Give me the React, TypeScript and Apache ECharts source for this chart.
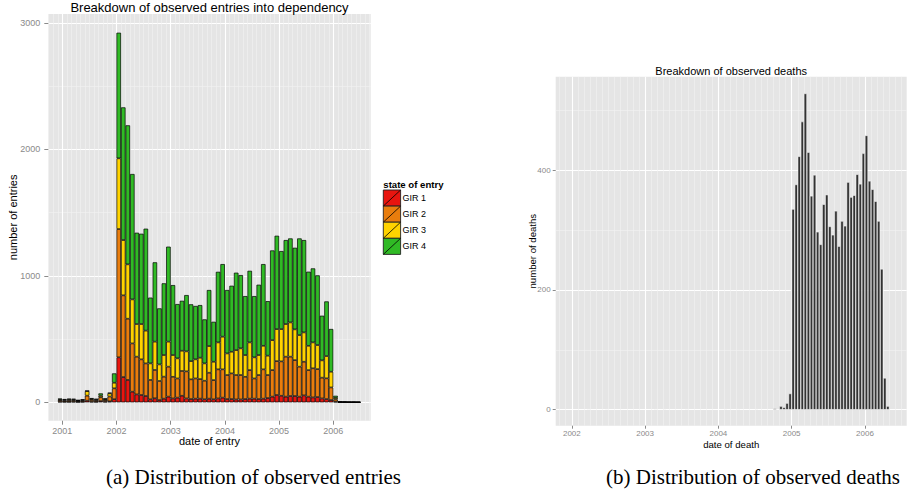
import React, { useEffect, useRef } from "react";
import * as echarts from "echarts";

// ---- entries into dependency, monthly, split by GIR level ----
const entryFirstMonth = "2000-12";
const girNames = ["GIR 1", "GIR 2", "GIR 3", "GIR 4"];
const girColors = ["#E8150F", "#E97D0D", "#FFD300", "#30BA25"];

const gir1 = [5, 4, 4, 5, 3, 4, 13, 5, 4, 10, 5, 8, 25, 356, 200, 177, 84, 63, 58, 50, 24, 32, 18, 29, 45, 31, 37, 52, 31, 26, 29, 29, 24, 29, 24, 31, 37, 26, 26, 23, 23, 26, 29, 29, 26, 29, 34, 45, 58, 52, 45, 50, 50, 45, 55, 45, 39, 42, 31, 26, 18, 5, 1, 1, 0, 0, 0];
const gir2 = [12, 10, 12, 11, 8, 10, 40, 14, 12, 30, 13, 38, 86, 1014, 646, 484, 382, 298, 282, 258, 153, 224, 151, 174, 237, 171, 152, 196, 214, 156, 160, 155, 147, 205, 152, 230, 224, 190, 203, 193, 193, 176, 226, 160, 190, 232, 182, 210, 268, 272, 316, 311, 284, 237, 266, 210, 230, 221, 164, 164, 100, 18, 2, 1, 1, 1, 1];
const gir3 = [6, 6, 7, 6, 4, 5, 36, 8, 6, 13, 7, 25, 44, 559, 437, 430, 348, 258, 279, 259, 131, 224, 131, 171, 198, 172, 159, 160, 158, 144, 151, 169, 137, 211, 145, 213, 258, 171, 171, 197, 211, 172, 219, 167, 158, 186, 153, 237, 253, 255, 258, 271, 243, 250, 232, 192, 205, 190, 137, 176, 124, 12, 1, 1, 1, 1, 0];
const gir4 = [7, 6, 6, 6, 3, 5, 3, 7, 6, 18, 7, 5, 74, 993, 1049, 1099, 991, 722, 714, 806, 520, 627, 443, 567, 751, 553, 429, 395, 445, 449, 422, 416, 348, 443, 316, 558, 574, 501, 522, 612, 579, 466, 566, 484, 556, 646, 431, 709, 738, 617, 664, 664, 645, 764, 730, 586, 585, 551, 353, 432, 338, 17, 1, 1, 1, 1, 1];
const girSeries = [gir1, gir2, gir3, gir4];

const entryYearTicks = [2001, 2002, 2003, 2004, 2005, 2006];
const entryCountTicks = [0, 1000, 2000, 3000];

// ---- observed deaths, half-month bins ("YYYY-MM-h", h = 1 or 2) ----
const deathPeriods = [
  "2002-03-2", "2002-06-2", "2003-02-2", "2003-04-1", "2003-07-2", "2004-02-1", "2004-04-1", "2004-07-1",
  "2004-10-1", "2004-10-2", "2004-11-1", "2004-11-2", "2004-12-1", "2004-12-2",
  "2005-01-1", "2005-01-2", "2005-02-1", "2005-02-2", "2005-03-1", "2005-03-2",
  "2005-04-1", "2005-04-2", "2005-05-1", "2005-05-2", "2005-06-1", "2005-06-2",
  "2005-07-1", "2005-07-2", "2005-08-1", "2005-08-2", "2005-09-1", "2005-09-2",
  "2005-10-1", "2005-10-2", "2005-11-1", "2005-11-2", "2005-12-1", "2005-12-2",
  "2006-01-1", "2006-01-2", "2006-02-1", "2006-02-2", "2006-03-1", "2006-03-2",
  "2006-04-1", "2006-04-2",
];
const deathCounts = [
  1, 1, 1, 1, 1, 1, 1, 1,
  2, 1, 6, 4, 11, 27,
  335, 376, 423, 481, 528, 430,
  357, 392, 297, 276, 343, 359,
  306, 292, 332, 273, 315, 307,
  380, 355, 358, 393, 377, 428,
  458, 382, 368, 348, 315, 235,
  53, 6,
];
const deathYearTicks = [2002, 2003, 2004, 2005, 2006];
const deathCountTicks = [0, 200, 400];

const SANS = "'Liberation Sans', Arial, Helvetica, sans-serif";
const SERIF = "'Liberation Serif', 'DejaVu Serif', serif";
const TICK_GREY = "#8a8a8a";

function monthStart(label: string): number {
  const [y, m] = label.split("-").map(Number);
  return y + (m - 1) / 12;
}
function halfMonthCentre(label: string): number {
  const [y, m, h] = label.split("-").map(Number);
  return y + (m - 1) / 12 + (h === 1 ? 1 : 3) / 48;
}
function monthLabels(first: string, count: number): string[] {
  let [y, m] = first.split("-").map(Number);
  const out: string[] = [];
  for (let i = 0; i < count; i++) {
    out.push(`${y}-${String(m).padStart(2, "0")}`);
    m += 1;
    if (m > 12) { m = 1; y += 1; }
  }
  return out;
}

const entryMonths = monthLabels(entryFirstMonth, gir1.length);

// panel geometry (pixels) and data ranges of the two panels
const P1 = { left: 48.3, top: 14, width: 322.4, height: 406.7 };
const P2 = { left: 555.7, top: 76.7, width: 351, height: 349 };
const X1 = [2000.742, 2006.69];
const Y1 = [-145, 3070];
const X2 = [2001.78, 2006.57];
const Y2 = [-26.7, 556];

const pxPerYear1 = P1.width / (X1[1] - X1[0]);
const halfMonthPx = P2.width / (X2[1] - X2[0]) / 24;

// the stacked monthly bars sit on a category axis laid exactly over the
// span of months on the date scale of panel (a)
const barsStart = monthStart(entryMonths[0]);
const barsEnd = barsStart + entryMonths.length / 12;
const BARS = {
  left: P1.left + (barsStart - X1[0]) * pxPerYear1,
  top: P1.top,
  width: (barsEnd - barsStart) * pxPerYear1,
  height: P1.height,
};

function onlyTicks(ticks: number[]) {
  return (v: number) => (ticks.some((t) => Math.abs(t - v) < 1e-6) ? String(Math.round(v)) : "");
}

function valueAxis(opts: {
  gridIndex: number; min: number; max: number; step: number; minorSplit: number;
  ticks: number[]; fontSize: number; tickLen: number; margin: number;
}) {
  return {
    type: "value",
    gridIndex: opts.gridIndex,
    min: opts.min,
    max: opts.max,
    minInterval: opts.step,
    maxInterval: opts.step,
    axisLine: { show: false, onZero: false },
    axisTick: { show: true, length: opts.tickLen, customValues: opts.ticks, lineStyle: { color: TICK_GREY, width: 1 } },
    axisLabel: {
      show: true, customValues: opts.ticks, color: TICK_GREY, fontSize: opts.fontSize,
      fontFamily: SANS, margin: opts.margin, formatter: onlyTicks(opts.ticks),
    },
    splitLine: { show: true, lineStyle: { color: "#FFFFFF", width: 1.1 } },
    minorTick: { show: false, splitNumber: opts.minorSplit },
    minorSplitLine: { show: true, lineStyle: { color: "#F2F2F2", width: 0.6 } },
  };
}

function text(t: string, x: number, y: number, size: number, extra: any = {}) {
  return {
    type: "text",
    x, y,
    rotation: extra.rotation || 0,
    silent: true,
    z: 100,
    style: {
      text: t,
      fontSize: size,
      fontFamily: extra.family || SANS,
      fontWeight: extra.weight || "normal",
      fill: extra.color || "#000",
      align: extra.align || "center",
      verticalAlign: "middle",
    },
  };
}

function buildOption() {
  const entrySeries = girSeries.map((vals, k) => ({
    type: "bar",
    name: girNames[k],
    xAxisIndex: 2,
    yAxisIndex: 2,
    stack: "entries",
    barCategoryGap: "0%",
    itemStyle: { color: girColors[k], borderColor: "#000", borderWidth: 0.7 },
    data: vals,
  }));

  const deathSeries = {
    type: "bar",
    name: "deaths",
    xAxisIndex: 1,
    yAxisIndex: 1,
    barWidth: halfMonthPx,
    itemStyle: { color: "#333333", borderColor: "#FFFFFF", borderWidth: 0.5 },
    data: deathCounts.map((v, i) => [halfMonthCentre(deathPeriods[i]), v]),
  };

  const legendTop = 190;
  const keyH = 16.1;
  const keyW = 17.3;
  const keyX = 383.3;
  const legend: any[] = [text("state of entry", keyX, 184.3, 9.6, { align: "left", weight: "bold" })];
  girNames.forEach((name, k) => {
    const y0 = legendTop + k * keyH;
    legend.push({
      type: "rect", silent: true, z: 100,
      shape: { x: keyX, y: y0, width: keyW, height: keyH },
      style: { fill: girColors[k], stroke: "#222", lineWidth: 0.9 },
    });
    legend.push({
      type: "line", silent: true, z: 101,
      shape: { x1: keyX, y1: y0 + keyH, x2: keyX + keyW, y2: y0 },
      style: { stroke: "#000", lineWidth: 0.8 },
    });
    legend.push(text(name, keyX + keyW + 2, y0 + keyH / 2, 9, { align: "left" }));
  });

  const c1x = P1.left + P1.width / 2;
  const c2x = P2.left + P2.width / 2;

  return {
    animation: false,
    textStyle: { fontFamily: SANS },
    grid: [
      { ...P1, show: true, backgroundColor: "#E5E5E5", borderWidth: 0, containLabel: false },
      { ...P2, show: true, backgroundColor: "#E5E5E5", borderWidth: 0, containLabel: false },
      { ...BARS, show: false, containLabel: false },
    ],
    xAxis: [
      valueAxis({ gridIndex: 0, min: X1[0], max: X1[1], step: 1, minorSplit: 12, ticks: entryYearTicks, fontSize: 9, tickLen: 4, margin: 5.5 }),
      valueAxis({ gridIndex: 1, min: X2[0], max: X2[1], step: 1, minorSplit: 12, ticks: deathYearTicks, fontSize: 8, tickLen: 3, margin: 3.5 }),
      { type: "category", gridIndex: 2, data: entryMonths, boundaryGap: true, show: false },
    ],
    yAxis: [
      valueAxis({ gridIndex: 0, min: Y1[0], max: Y1[1], step: 1000, minorSplit: 2, ticks: entryCountTicks, fontSize: 9, tickLen: 4, margin: 8 }),
      valueAxis({ gridIndex: 1, min: Y2[0], max: Y2[1], step: 200, minorSplit: 2, ticks: deathCountTicks, fontSize: 8, tickLen: 3, margin: 5 }),
      { type: "value", gridIndex: 2, min: Y1[0], max: Y1[1], show: false, splitLine: { show: false } },
    ],
    series: [...entrySeries, deathSeries],
    graphic: [
      text("Breakdown of observed entries into dependency", c1x, 7.2, 13),
      text("number of entries", 13, P1.top + P1.height / 2, 11, { rotation: Math.PI / 2 }),
      text("date of entry", c1x, 441, 11),
      ...legend,
      text("Breakdown of observed deaths", c2x, 71, 11),
      text("number of deaths", 532, P2.top + P2.height / 2, 9.6, { rotation: Math.PI / 2 }),
      text("date of death", c2x, 444, 9.6),
      text("(a) Distribution of observed entries", 253.5, 477, 21, { family: SERIF }),
      text("(b) Distribution of observed deaths", 753, 477, 21, { family: SERIF }),
    ],
  };
}

export default function App() {
  const ref = useRef<HTMLDivElement>(null);
  useEffect(() => {
    if (!ref.current) return;
    const chart = echarts.init(ref.current, null, { renderer: "svg" });
    chart.setOption(buildOption() as any);
    return () => chart.dispose();
  }, []);
  return (
    <div
      ref={ref}
      style={{ position: "absolute", left: 0, top: 0, width: 907, height: 493, background: "#FFFFFF" }}
    />
  );
}
